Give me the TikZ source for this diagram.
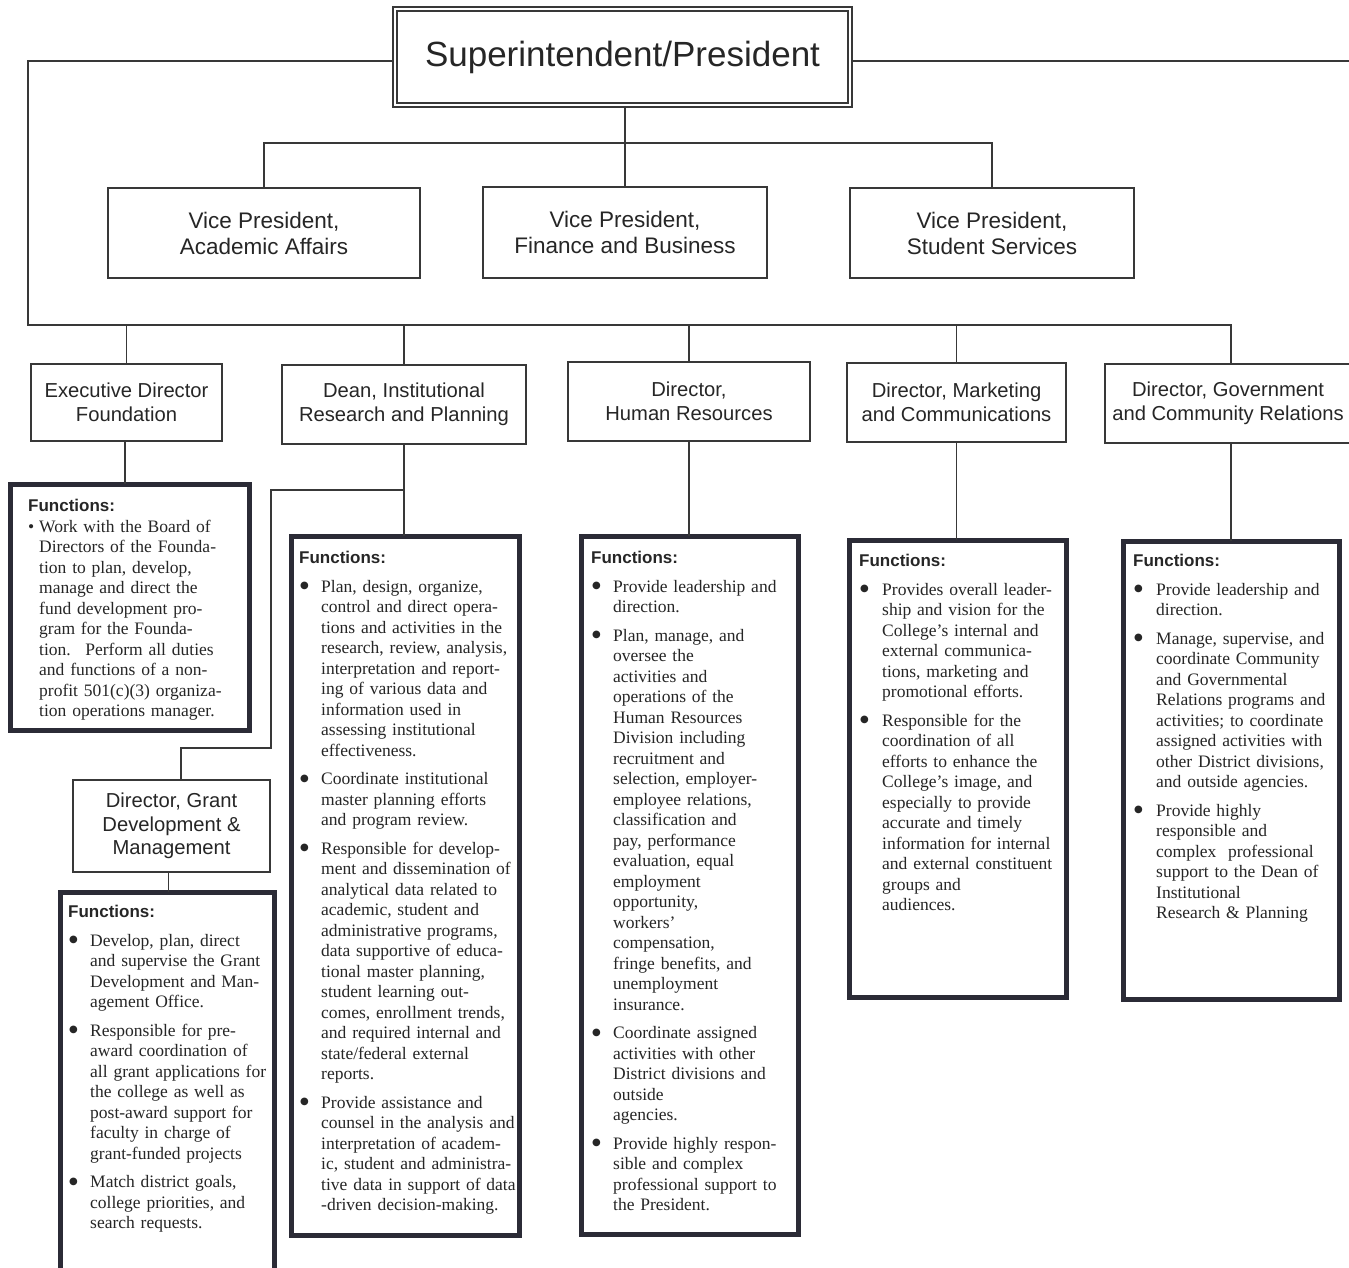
\documentclass[tikz,border=0pt]{standalone}
\usepackage{fontspec}
\setmainfont{Liberation Serif}
\setsansfont{Liberation Sans}
\newfontfamily\dotfont{DejaVu Sans}
\usetikzlibrary{calc}

\definecolor{ink}{HTML}{262626}
\definecolor{rule}{HTML}{383838}
\definecolor{heavy}{HTML}{2B2B36}

% hanging bullet items for the "Functions" panels
\newlength\bulind
\setlength\bulind{22pt}
\newlength\fitemsep
\setlength\fitemsep{8pt}
\newcommand\bulletmark{\hspace*{1pt}\raisebox{3.5pt}{\dotfont\fontsize{10}{0}\selectfont ●}}
\newcommand\fhead{{\sffamily\bfseries\fontsize{17}{20}\selectfont Functions:\par}}
\newcommand\fitem[1]{\par\vspace{\fitemsep}\begingroup\let\\\newline
  \hangindent=\bulind\hangafter=1\noindent\makebox[\bulind][l]{\bulletmark}#1\par\endgroup}

\begin{document}
\begin{tikzpicture}[x=1pt,y=-1pt,
  conn/.style={draw=rule, line width=1.8pt},
  unitbox/.style={draw=rule, line width=1.8pt, fill=white, outer sep=0pt, inner sep=0pt,
    align=center, text=ink, font=\sffamily\fontsize{20.2}{23.5}\selectfont},
  vpbox/.style={unitbox, font=\sffamily\fontsize{22.5}{26}\selectfont},
  fnbox/.style={draw=heavy, line width=5pt, outer sep=0pt, inner sep=0pt},
  fntext/.style={anchor=north west, inner sep=0pt, text width=320pt, align=left,
    text=ink, font=\fontsize{17.5}{20.5}\selectfont}]

\fill[white] (0,0) rectangle (1349,1267);
\useasboundingbox (0,0) rectangle (1349,1267);

% ---------- top of the organisation ----------
\node[draw=rule, line width=1.6pt, double=white, double distance=2.6pt, fill=white,
  minimum width=455, minimum height=96, outer sep=2.9pt, inner sep=0pt, text=ink,
  font=\sffamily\fontsize{35}{40}\selectfont] (sup) at (622.5,57) {Superintendent/President};

% ---------- vice presidents ----------
\node[vpbox, minimum width=312, minimum height=90] (vpa) at (264,233) {Vice President,\\Academic Affairs};
\node[vpbox, minimum width=284, minimum height=91] (vpf) at (625,232.5) {Vice President,\\Finance and Business};
\node[vpbox, minimum width=284, minimum height=90] (vps) at (992,233) {Vice President,\\Student Services};

% ---------- directors reporting to the president ----------
\node[unitbox, minimum width=191, minimum height=77] (ed) at (126.5,402.5) {Executive Director\\Foundation};
\node[unitbox, minimum width=244, minimum height=79] (dean) at (404,404.5) {Dean, Institutional\\Research and Planning};
\node[unitbox, minimum width=242, minimum height=79] (hr) at (689,401.5) {Director,\\Human Resources};
\node[unitbox, minimum width=219, minimum height=79] (mk) at (956.5,402.5) {Director, Marketing\\and Communications};
\node[unitbox, minimum width=246, minimum height=79] (gov) at (1228,403.5) {Director, Government\\and Community Relations};
\node[unitbox, minimum width=197, minimum height=92] (grant) at (171.5,826) {Director, Grant\\Development \&\\Management};

% ---------- function panels ----------
\node[fnbox, minimum width=239, minimum height=246] (edf) at (129.5,607) {};
\node[fnbox, minimum width=228, minimum height=699] (deanf) at (405,885.5) {};
\node[fnbox, minimum width=217, minimum height=698] (hrf) at (689.5,885) {};
\node[fnbox, minimum width=217, minimum height=457] (mkf) at (957.5,768.5) {};
\node[fnbox, minimum width=216, minimum height=458] (govf) at (1231,770) {};
\node[fnbox, minimum width=214, minimum height=410] (grantf) at (167,1097) {};

% ---------- connectors ----------
\coordinate (vpbus) at (625,143);
\coordinate (busL) at (28,325);
\coordinate (busR) at (1231,325);
\coordinate (farR) at (1360,61);
\coordinate (deanTap) at (404,490);
\coordinate (jogA) at (271,748);
\coordinate (jogB) at (181,748);

\draw[conn] (vpbus |- sup.south) -- (vpbus);
\draw[conn] (vpa.north) |- (vpbus) -| (vps.north);
\draw[conn] (vpbus) -- (vpf.north);

\draw[conn] ([yshift=-4pt]sup.west) -| (busL) -- (busR) -- (busR |- gov.north);
\draw[conn] ([yshift=-4pt]sup.east) -- (farR);
\draw[conn] (ed.north) -- (ed.north |- busL);
\draw[conn] (dean.north) -- (dean.north |- busL);
\draw[conn] (hr.north) -- (hr.north |- busL);
\draw[conn] (mk.north) -- (mk.north |- busL);

\draw[conn] ([xshift=-1.5pt]ed.south) -- ([xshift=-1.5pt]ed.south |- edf.north);
\draw[conn] (dean.south) -- (dean.south |- deanf.north);
\draw[conn] (deanTap) -| (jogA) -- (jogB) -- (jogB |- grant.north);
\draw[conn] ([xshift=-3pt]grant.south) -- ([xshift=-3pt]grant.south |- grantf.north);
\draw[conn] (hr.south) -- (hr.south |- hrf.north);
\draw[conn] (mk.south) -- (mk.south |- mkf.north);
\draw[conn] (govf.north |- gov.south) -- (govf.north);

% ---------- panel texts ----------
\node[fntext] (edf-t) at (28,499) {\setlength\bulind{11pt}\setlength\fitemsep{0pt}%
  \renewcommand\bulletmark{\textbullet}\fhead
  \fitem{Work with the Board of\\Directors of the Founda-\\tion to plan, develop,\\manage and direct the\\fund development pro-\\gram for the Founda-\\tion.~ Perform all duties\\and functions of a non-\\profit 501(c)(3) organiza-\\tion operations manager.}};

\node[fntext] (deanf-t) at (299,551) {\fhead
  \fitem{Plan, design, organize,\\control and direct opera-\\tions and activities in the\\research, review, analysis,\\interpretation and report-\\ing of various data and\\information used in\\assessing institutional\\effectiveness.}
  \fitem{Coordinate institutional\\master planning efforts\\and program review.}
  \fitem{Responsible for develop-\\ment and dissemination of\\analytical data related to\\academic, student and\\administrative programs,\\data supportive of educa-\\tional master planning,\\student learning out-\\comes, enrollment trends,\\and required internal and\\state/federal external\\reports.}
  \fitem{Provide assistance and\\counsel in the analysis and\\interpretation of academ-\\ic, student and administra-\\tive data in support of data\\-driven decision-making.}};

\node[fntext] (hrf-t) at (591,551) {\fhead
  \fitem{Provide leadership and\\direction.}
  \fitem{Plan, manage, and\\oversee the\\activities and\\operations of the\\Human Resources\\Division including\\recruitment and\\selection, employer-\\employee relations,\\classification and\\pay, performance\\evaluation, equal\\employment\\opportunity,\\workers'\\compensation,\\fringe benefits, and\\unemployment\\insurance.}
  \fitem{Coordinate assigned\\activities with other\\District divisions and\\outside\\agencies.}
  \fitem{Provide highly respon-\\sible and complex\\professional support to\\the President.}};

\node[fntext] (mkf-t) at (859,554) {\setlength\bulind{23pt}\fhead
  \fitem{Provides overall leader-\\ship and vision for the\\College's internal and\\external communica-\\tions, marketing and\\promotional efforts.}
  \fitem{Responsible for the\\coordination of all\\efforts to enhance the\\College's image, and\\especially to provide\\accurate and timely\\information for internal\\and external constituent\\groups and\\audiences.}};

\node[fntext] (govf-t) at (1133,554) {\setlength\bulind{23pt}\fhead
  \fitem{Provide leadership and\\direction.}
  \fitem{Manage, supervise, and\\coordinate Community\\and Governmental\\Relations programs and\\activities; to coordinate\\assigned activities with\\other District divisions,\\and outside agencies.}
  \fitem{Provide highly\\responsible and\\complex~ professional\\support to the Dean of\\Institutional\\Research \& Planning}};

\node[fntext] (grantf-t) at (68,905) {\fhead
  \fitem{Develop, plan, direct\\and supervise the Grant\\Development and Man-\\agement Office.}
  \fitem{Responsible for pre-\\award coordination of\\all grant applications for\\the college as well as\\post-award support for\\faculty in charge of\\grant-funded projects}
  \fitem{Match district goals,\\college priorities, and\\search requests.}};

\end{tikzpicture}
\end{document}
